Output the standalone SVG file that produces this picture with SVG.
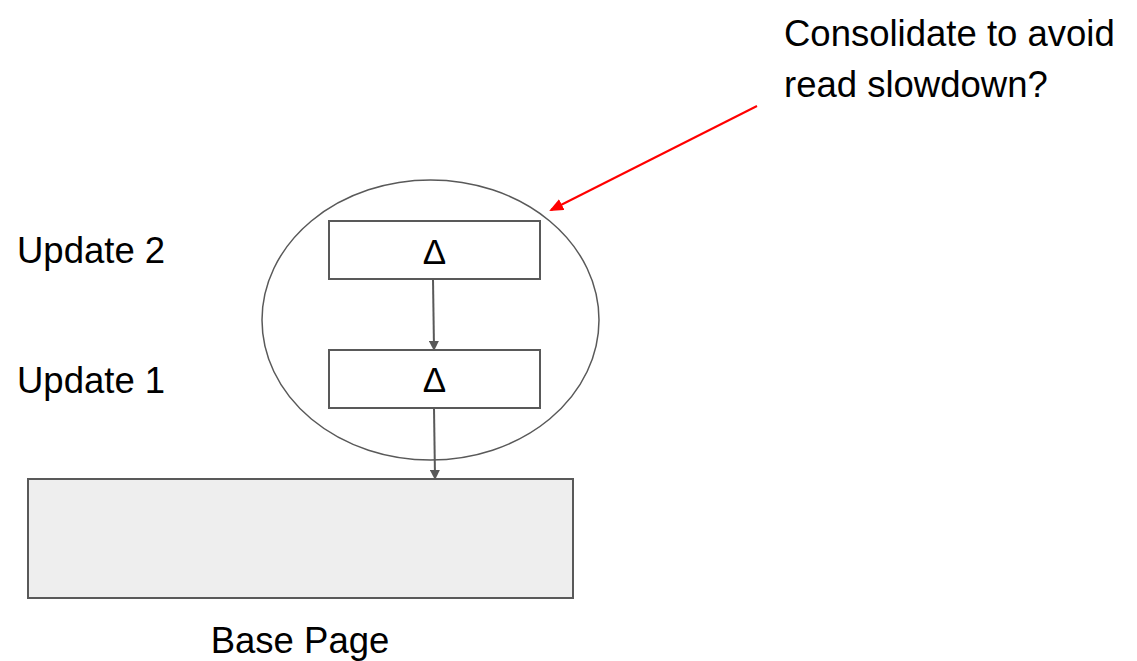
<svg xmlns="http://www.w3.org/2000/svg" width="1137" height="661" viewBox="0 0 1137 661">
<style>
text{font-family:"Liberation Sans",Arial,sans-serif;fill:#000;font-size:36.5px}
.box{fill:#fff;stroke:#595959;stroke-width:2}
.conn{stroke:#595959;stroke-width:2;fill:none}
.delta{font-size:35px}
</style>
<defs>
<marker id="ah" markerWidth="10" markerHeight="10" refX="8" refY="5" orient="auto" markerUnits="userSpaceOnUse">
<path d="M0,0 L10,5 L0,10 z" fill="#595959"/>
</marker>
<marker id="ahr" markerWidth="14" markerHeight="12" refX="12" refY="6" orient="auto" markerUnits="userSpaceOnUse">
<path d="M0,0 L14,6 L0,12 z" fill="#ff0000"/>
</marker>
</defs>
<rect width="1137" height="661" fill="#fff"/>
<g id="group-ellipse"><ellipse cx="430.5" cy="320" rx="168.5" ry="140" fill="none" stroke="#595959" stroke-width="1.5"/></g>
<g id="base"><rect x="28" y="479" width="545" height="119" fill="#eeeeee" stroke="#595959" stroke-width="2"/>
<text x="300" y="653" text-anchor="middle">Base Page</text></g>
<g id="update2"><rect class="box" x="329" y="221" width="211" height="58"/><text class="delta" x="434.5" y="264" text-anchor="middle">Δ</text></g>
<g id="update1"><rect class="box" x="329" y="350" width="211" height="58"/><text class="delta" x="434.5" y="392" text-anchor="middle">Δ</text></g>
<g id="label-u2"><text x="17" y="263">Update 2</text></g>
<g id="label-u1"><text x="17" y="393">Update 1</text></g>
<g id="note"><text x="784" y="46">Consolidate to avoid</text><text x="784" y="97">read slowdown?</text></g>
<g id="connectors">
<line class="conn" x1="433" y1="279" x2="434" y2="349" marker-end="url(#ah)"/>
<line class="conn" x1="434" y1="408" x2="435" y2="478" marker-end="url(#ah)"/>
<line x1="757" y1="106" x2="551" y2="210" stroke="#ff0000" stroke-width="2" marker-end="url(#ahr)"/>
</g>
</svg>
